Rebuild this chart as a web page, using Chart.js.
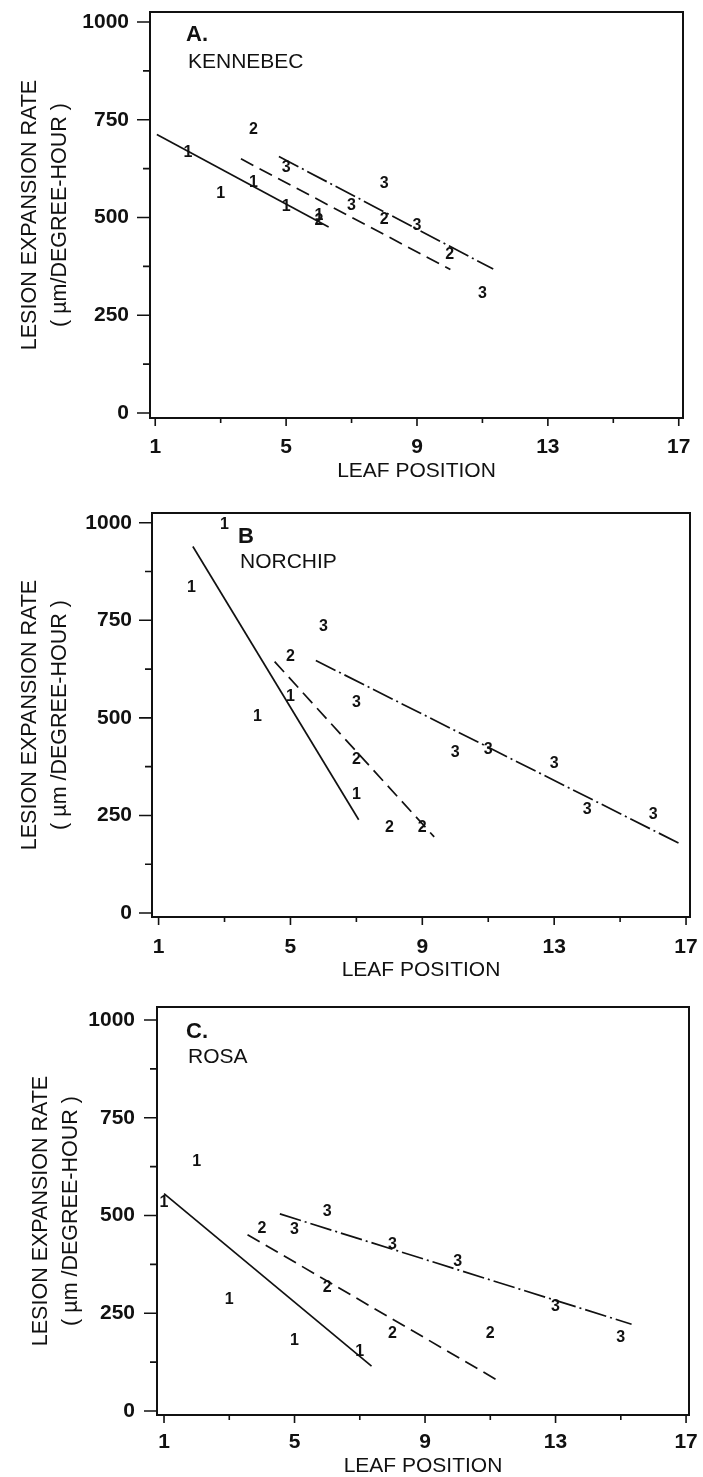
<!DOCTYPE html>
<html><head><meta charset="utf-8">
<script src="https://cdn.jsdelivr.net/npm/chart.js@4.4.1/dist/chart.umd.min.js"></script>
<style>
html,body{margin:0;padding:0;background:#fff;}
body{width:703px;height:1477px;position:relative;overflow:hidden;}
canvas{position:absolute;left:0;}
</style></head><body>
<canvas id="cA" width="703" height="492" style="top:0px"></canvas>
<canvas id="cB" width="703" height="500" style="top:492px"></canvas>
<canvas id="cC" width="703" height="485" style="top:992px"></canvas>
<script>
// ---- axes ----
const leafTicks = [1,3,5,7,9,11,13,15,17];
const leafLabels = [1,5,9,13,17];
const rateTicks = [0,125,250,375,500,625,750,875,1000];
const rateLabels = [0,250,500,750,1000];
const xTitle = 'LEAF POSITION';
const yTitleA = ['LESION EXPANSION RATE', '( \u00B5m/DEGREE-HOUR )'];
const yTitleBC = ['LESION EXPANSION RATE', '( \u00B5m /DEGREE-HOUR )'];

// ---- Panel A: KENNEBEC ----
const kenX1 = [2,3,4,5,6];        const kenY1 = [667,560,590,527,504];
const kenX2 = [4,6,8,10];         const kenY2 = [726,491,494,406];
const kenX3 = [5,7,8,9,11];       const kenY3 = [628,530,587,479,305];
const kenLine1X = [1.05,6.3];     const kenLine1Y = [712,476];
const kenLine2X = [3.62,10.02];   const kenLine2Y = [650,367];
const kenLine3X = [4.78,11.33];   const kenLine3Y = [656,368];

// ---- Panel B: NORCHIP ----
const norX1 = [2,3,4,5,7];        const norY1 = [834,994,503,555,303];
const norX2 = [5,7,8,9];          const norY2 = [657,392,218,218];
const norX3 = [6,7,10,11,13,14,16]; const norY3 = [735,538,410,418,384,265,252];
const norLine1X = [2.04,7.07];    const norLine1Y = [939,239];
const norLine2X = [4.52,9.36];    const norLine2Y = [644,195];
const norLine3X = [5.77,16.78];   const norLine3Y = [647,179];

// ---- Panel C: ROSA ----
const rosX1 = [1,2,3,5,7];        const rosY1 = [534,638,286,179,151];
const rosX2 = [4,6,8,11];         const rosY2 = [466,315,197,197];
const rosX3 = [5,6,8,10,13,15];   const rosY3 = [464,509,425,383,267,188];
const rosLine1X = [1.0,7.36];     const rosLine1Y = [556,115];
const rosLine2X = [3.56,11.17];   const rosLine2Y = [451,81];
const rosLine3X = [4.55,15.33];   const rosLine3Y = [504,222];

const FONT = '"Liberation Sans", Arial, Helvetica, sans-serif';
const INK = '#111';

const pts = (xs, ys) => xs.map((x, i) => ({x: x, y: ys[i]}));

const decor = {
  id: 'decor',
  afterDraw(chart, args, o) {
    const ctx = chart.ctx, a = chart.chartArea, sx = chart.scales.x, sy = chart.scales.y;
    ctx.save();
    ctx.strokeStyle = INK;
    ctx.lineWidth = 2;
    ctx.strokeRect(a.left, a.top, a.right - a.left, a.bottom - a.top);
    ctx.lineWidth = 1.6;
    ctx.beginPath();
    rateTicks.forEach(v => {
      const p = sy.getPixelForValue(v);
      const L = rateLabels.includes(v) ? 13 : 7;
      ctx.moveTo(a.left - L, p); ctx.lineTo(a.left, p);
    });
    leafTicks.forEach(v => {
      const p = sx.getPixelForValue(v);
      const L = leafLabels.includes(v) ? 8 : 5;
      ctx.moveTo(p, a.bottom); ctx.lineTo(p, a.bottom + L);
    });
    ctx.stroke();
    // digit markers
    ctx.fillStyle = INK;
    ctx.textAlign = 'center';
    ctx.textBaseline = 'middle';
    ctx.font = 'bold 16px ' + FONT;
    chart.data.datasets.forEach((ds, i) => {
      if (!ds.digit) return;
      chart.getDatasetMeta(i).data.forEach(el => ctx.fillText(ds.digit, el.x, el.y));
    });
    // panel label and cultivar name
    ctx.textAlign = 'left';
    ctx.font = 'bold 22px ' + FONT;
    ctx.fillText(o.label, a.left + o.lx, a.top + o.ly);
    ctx.font = '21px ' + FONT;
    ctx.fillText(o.name, a.left + o.nx, a.top + o.ny);
    ctx.restore();
  }
};

function zeroPad(sc) { sc.paddingTop = 0; sc.paddingBottom = 0; sc.paddingLeft = 0; sc.paddingRight = 0; }

function makeChart(id, p, s) {
  const mk = (xs, ys, digit) => ({data: pts(xs, ys), digit: digit, showLine: false, pointRadius: 0});
  const ln = (xs, ys, dash) => ({data: pts(xs, ys), showLine: true, pointRadius: 0, borderColor: INK, borderWidth: 1.7, borderDash: dash, fill: false});
  return new Chart(document.getElementById(id), {
    type: 'scatter',
    data: {datasets: [
      mk(s.x1, s.y1, '1'), mk(s.x2, s.y2, '2'), mk(s.x3, s.y3, '3'),
      ln(s.l1x, s.l1y, []), ln(s.l2x, s.l2y, [14, 7]), ln(s.l3x, s.l3y, [22, 4, 2, 4])
    ]},
    options: {
      responsive: false, animation: false, devicePixelRatio: 1,
      layout: {padding: {left: 0, top: p.top, right: p.right, bottom: 0}},
      plugins: {legend: {display: false}, tooltip: {enabled: false},
        decor: {label: p.label, name: p.name, lx: p.lx, ly: p.ly, nx: p.nx, ny: p.ny}},
      scales: {
        x: {type: 'linear', min: p.xMin, max: p.xMax,
          afterBuildTicks: sc => { sc.ticks = leafLabels.map(v => ({value: v})); },
          afterFit: sc => { sc.height = p.xAxisH; zeroPad(sc); },
          grid: {display: false, drawTicks: false}, border: {display: false},
          ticks: {autoSkip: false, maxRotation: 0, padding: p.xLabPad, color: INK,
            font: {family: FONT, size: 21, weight: 'bold'}, callback: v => String(v)},
          title: {display: true, text: xTitle, color: INK,
            font: {family: FONT, size: 21, lineHeight: 1.0}, padding: {top: 0, bottom: p.xTitlePad}}
        },
        y: {type: 'linear', min: p.yMin, max: p.yMax,
          afterBuildTicks: sc => { sc.ticks = rateLabels.map(v => ({value: v})); },
          afterFit: sc => { sc.width = p.yAxisW; zeroPad(sc); },
          grid: {display: false, drawTicks: false}, border: {display: false},
          ticks: {autoSkip: false, padding: p.yLabPad, color: INK,
            font: {family: FONT, size: 21, weight: 'bold'}, callback: v => String(v)},
          title: {display: true, text: p.yTitle, color: INK,
            font: {family: FONT, size: 21.5, lineHeight: 1.4}, padding: {top: p.yTitlePad, bottom: 0}}
        }
      }
    },
    plugins: [decor]
  });
}

makeChart('cA',
  {top: 12, right: 20, xAxisH: 74, yAxisW: 150, xMin: 0.84, xMax: 17.13, yMin: -12.8, yMax: 1025.6,
   xLabPad: 16.5, xTitlePad: 10.5, yLabPad: 21, yTitlePad: 15, yTitle: yTitleA,
   label: 'A.', name: 'KENNEBEC', lx: 36, ly: 22.5, nx: 38, ny: 50.5},
  {x1: kenX1, y1: kenY1, x2: kenX2, y2: kenY2, x3: kenX3, y3: kenY3,
   l1x: kenLine1X, l1y: kenLine1Y, l2x: kenLine2X, l2y: kenLine2Y, l3x: kenLine3X, l3y: kenLine3Y});

makeChart('cB',
  {top: 21, right: 13, xAxisH: 75, yAxisW: 152, xMin: 0.8, xMax: 17.12, yMin: -10.2, yMax: 1024.9,
   xLabPad: 17.2, xTitlePad: 11.5, yLabPad: 20, yTitlePad: 15, yTitle: yTitleBC,
   label: 'B', name: 'NORCHIP', lx: 86, ly: 23.5, nx: 88, ny: 49},
  {x1: norX1, y1: norY1, x2: norX2, y2: norY2, x3: norX3, y3: norY3,
   l1x: norLine1X, l1y: norLine1Y, l2x: norLine2X, l2y: norLine2Y, l3x: norLine3X, l3y: norLine3Y});

makeChart('cC',
  {top: 15, right: 14, xAxisH: 62, yAxisW: 157, xMin: 0.785, xMax: 17.09, yMin: -10.2, yMax: 1033.2,
   xLabPad: 14.5, xTitlePad: 0.5, yLabPad: 22, yTitlePad: 26, yTitle: yTitleBC,
   label: 'C.', name: 'ROSA', lx: 29, ly: 24.5, nx: 31, ny: 50},
  {x1: rosX1, y1: rosY1, x2: rosX2, y2: rosY2, x3: rosX3, y3: rosY3,
   l1x: rosLine1X, l1y: rosLine1Y, l2x: rosLine2X, l2y: rosLine2Y, l3x: rosLine3X, l3y: rosLine3Y});
</script>
</body></html>
